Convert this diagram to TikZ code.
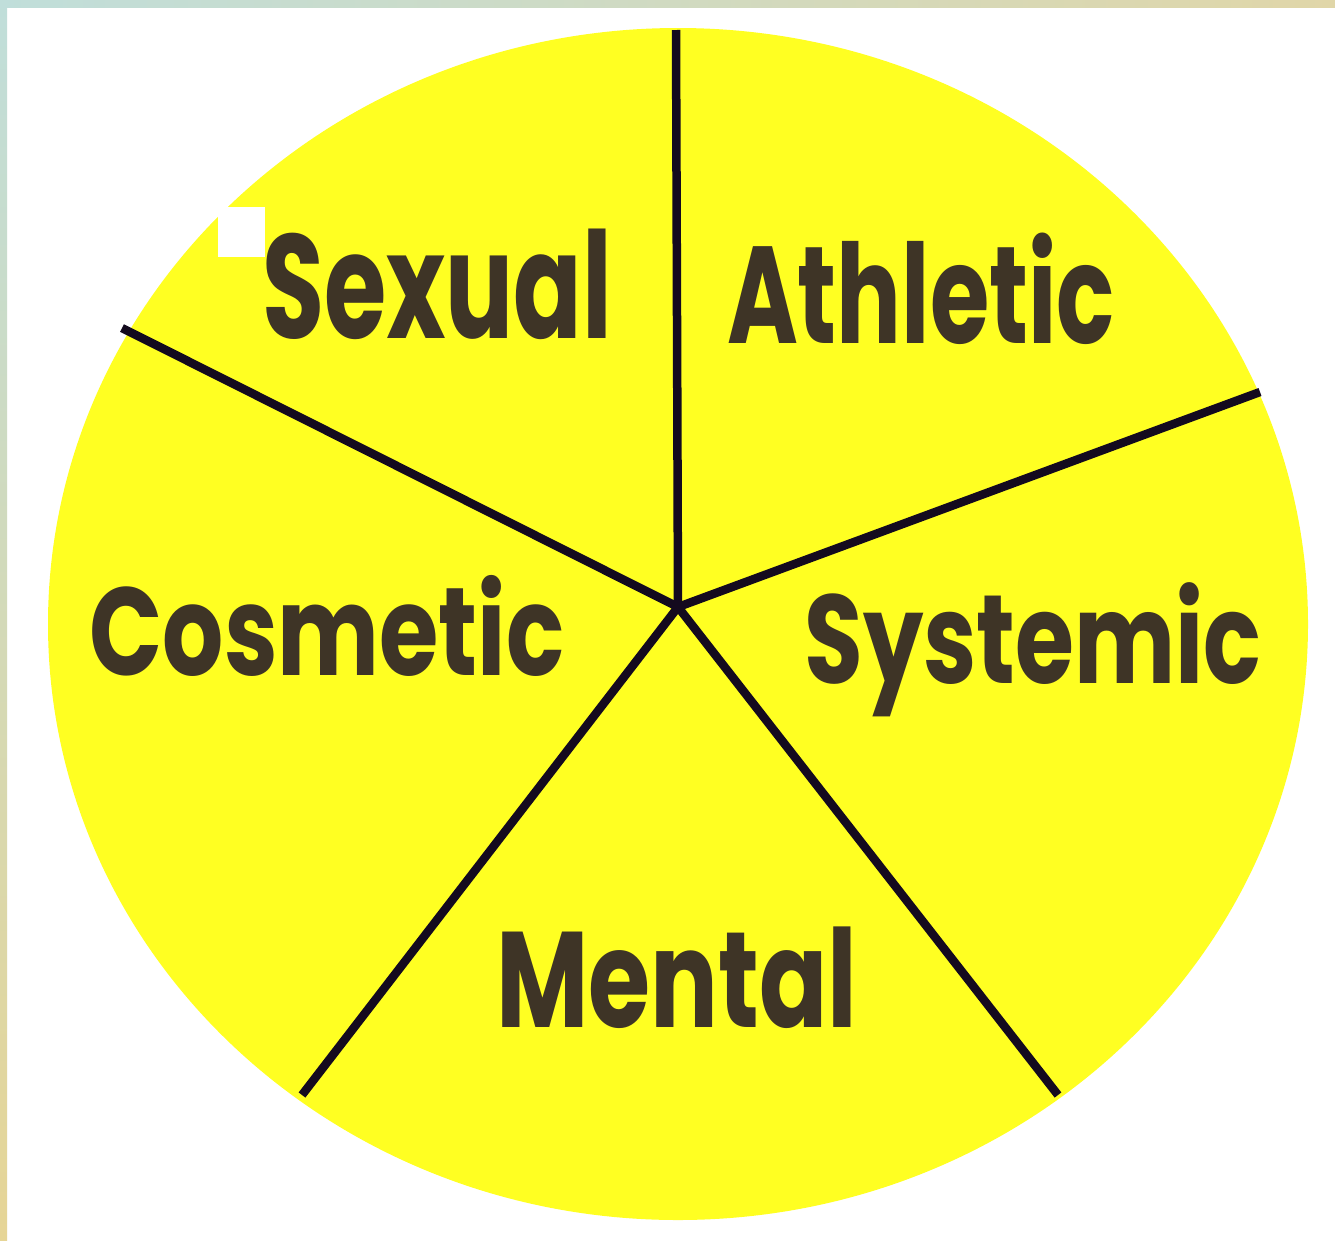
\documentclass[tikz,border=0pt]{standalone}
\usepackage{graphicx}
\usepackage{fontspec}
\newfontfamily\lblfont{Poppins}[UprightFont=* Bold]
\usetikzlibrary{shapes.geometric}
\definecolor{diskyellow}{RGB}{255,255,34}
\definecolor{spoke}{RGB}{20,10,30}
\definecolor{lbltext}{RGB}{62,52,38}
\definecolor{edgeA}{RGB}{192,222,218}
\definecolor{edgeB}{RGB}{224,214,168}
\definecolor{edgeC}{RGB}{230,213,150}
\newlength\lblw
\newcommand\fitlbl[3]{{\fontsize{#2}{#2}\lblfont\settowidth\lblw{#3}\scalebox{\fpeval{#1/\lblw}}[1]{#3}}}
\begin{document}
\begin{tikzpicture}[x=1pt,y=-1pt,
  spokeline/.style={draw=spoke,line width=8.5pt},
  lbl/.style={anchor=base,inner sep=0pt,text=lbltext}]
\useasboundingbox (0,0) rectangle (1335,1240);
\fill[white] (0,0) rectangle (1335,1240);
\shade[left color=edgeA,right color=edgeB] (0,0) rectangle (1335,7);
\shade[top color=edgeA,bottom color=edgeC] (0,0) rectangle (7,1240);
\fill[diskyellow] (678,624) ellipse [x radius=630,y radius=596];
\fill[white] (218,207) rectangle (265,257);
\coordinate (c) at (678,607);
\coordinate (t) at (676,30);
\coordinate (ul) at (122,328);
\coordinate (ur) at (1260,392);
\coordinate (ll) at (302,1095);
\coordinate (lr) at (1058,1095);
\foreach \e in {t,ul,ur,ll,lr} \draw[spokeline] (c) -- (\e);
\fill[spoke] (c) circle (5);
\node[lbl] (sexual) at (437,338) {\fitlbl{350}{148}{Sexual}};
\node[lbl] (athletic) at (921,343) {\fitlbl{388}{138}{Athletic}};
\node[lbl] (cosmetic) at (327,675) {\fitlbl{475}{125}{Cosmetic}};
\node[lbl] (systemic) at (1033,683) {\fitlbl{457}{126}{Systemic}};
\node[lbl] (mental) at (677,1027) {\fitlbl{361}{136}{Mental}};
\end{tikzpicture}
\end{document}
